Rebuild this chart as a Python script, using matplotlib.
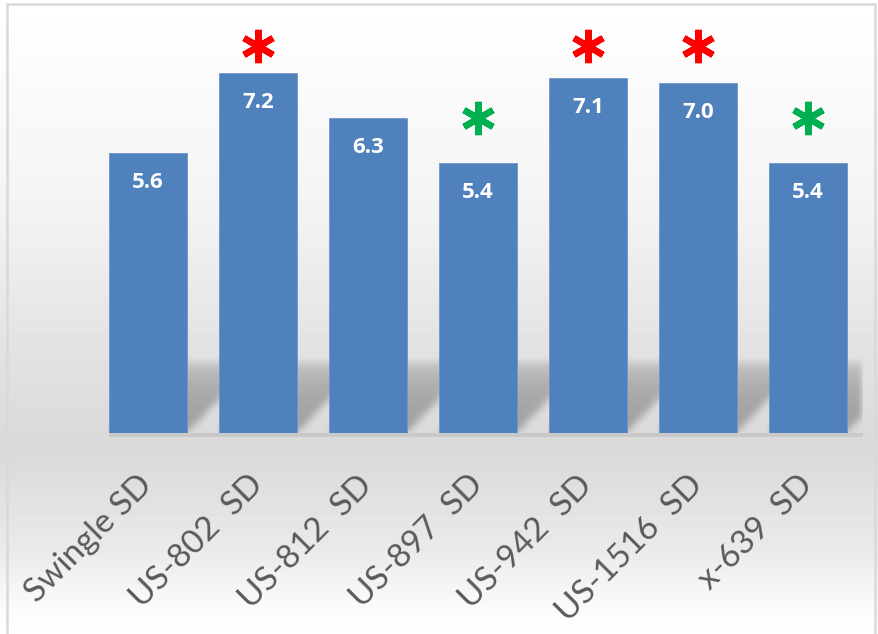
import numpy as np
import matplotlib
matplotlib.use("Agg")
import matplotlib.pyplot as plt
from matplotlib.patches import Rectangle

# --- data -------------------------------------------------------------
categories = ["Swingle SD", "US-802  SD", "US-812  SD", "US-897  SD",
              "US-942  SD", "US-1516  SD", "x-639  SD"]
values = [5.6, 7.2, 6.3, 5.4, 7.1, 7.0, 5.4]
# significance markers: 'high' = red asterisk, 'low' = green asterisk
significance = [None, "high", None, "low", "high", "high", "low"]

W, H, DPI = 879, 634, 100
BAR_COLOR = "#4f81bd"
BAR_WIDTH = 0.71
MARK_COLORS = {"high": "#ff0000", "low": "#00b050"}
MARK_LEVEL = {"high": 7.74, "low": 6.3}

fig = plt.figure(figsize=(W / DPI, H / DPI), dpi=DPI)

# --- background: vertical gradient over the whole figure ---------------
bg = fig.add_axes([0, 0, 1, 1], zorder=-10)
rows = np.arange(H)
stops_px = [0, 200, 350, 450, 550, 600, H]
stops_v = [255, 244, 226, 217, 234, 249, 255]
col = np.interp(rows, stops_px, stops_v) / 255.0
grad = np.repeat(col[:, None], 2, axis=1)
bg.imshow(grad, cmap="gray", vmin=0, vmax=1, aspect="auto",
          extent=[0, 1, 0, 1], origin="upper")
bg.set_axis_off()

# chart border
fig.patches.append(Rectangle((7 / W, -0.01), (875 - 7) / W, (H - 4) / H + 0.01,
                             transform=fig.transFigure, fill=False,
                             edgecolor="#d9d9d9", linewidth=1.8))

# --- main axes -------------------------------------------------------
left, right = 93, 863
base, top = 433, 20
ax = fig.add_axes([left / W, (H - base) / H, (right - left) / W, (base - top) / H])
ax.patch.set_alpha(0)
x = np.arange(len(categories))
ax.set_xlim(-0.5, len(categories) - 0.5)
ax.set_ylim(0, (base - top) / 50.0)

# diagonal drop shadow behind the bars (skewed, softened copy of each bar foot)
sh_h, sh_dx = 1.45, 0.62
gx = np.linspace(-0.5, len(categories) - 0.5, 770)
gy = np.linspace(0, 2.0, 100)
GX, GY = np.meshgrid(gx, gy)
mask = np.zeros_like(GX)
for xi in x:
    shift = sh_dx * GY / sh_h
    inside = (GY <= sh_h) & (GX >= xi - BAR_WIDTH / 2 + shift) & (GX <= xi + BAR_WIDTH / 2 + shift)
    mask[inside] = 1.0
k = np.ones(7) / 7.0
for _ in range(3):
    mask = np.apply_along_axis(lambda r: np.convolve(r, k, mode="same"), 1, mask)
    mask = np.apply_along_axis(lambda c: np.convolve(c, k, mode="same"), 0, mask)
fade = np.clip(1.0 - (GY / sh_h) ** 3 * 0.6, 0, 1)
rgba = np.zeros(mask.shape + (4,))
rgba[..., 3] = mask * fade * 0.26
ax.imshow(rgba, extent=[gx[0], gx[-1], 0, 2.0], origin="lower",
          aspect="auto", zorder=1)

# floor strip below the bars
ax.add_patch(Rectangle((-BAR_WIDTH / 2, -0.07), len(categories) - 0.5 + BAR_WIDTH / 2, 0.07,
                       facecolor="#c9c9c9", edgecolor="none", clip_on=False, zorder=1))

bars = ax.bar(x, values, width=BAR_WIDTH, color=BAR_COLOR,
              edgecolor="#6f95c8", linewidth=0.6, zorder=3)

for xi, v in zip(x, values):
    ax.annotate(f"{v:.1f}", (xi, v), xytext=(0, -21.5), textcoords="offset points",
                ha="center", va="center", color="white", fontsize=16,
                fontweight="bold", family="Open Sans", zorder=4)

for xi, s in zip(x, significance):
    if s is None:
        continue
    ax.plot([xi], [MARK_LEVEL[s]], marker=(6, 2, 0), markersize=24,
            markeredgewidth=4.6, color=MARK_COLORS[s], clip_on=False, zorder=5)

ax.set_xticks(x)
ax.set_xticklabels(categories, rotation=45, ha="right", va="center",
                   rotation_mode="anchor", fontsize=24, color="#595959",
                   family="Lato")
ax.tick_params(axis="x", length=0, pad=34)
ax.set_yticks([])
for sp in ax.spines.values():
    sp.set_visible(False)

fig.savefig("out.png", dpi=DPI)
